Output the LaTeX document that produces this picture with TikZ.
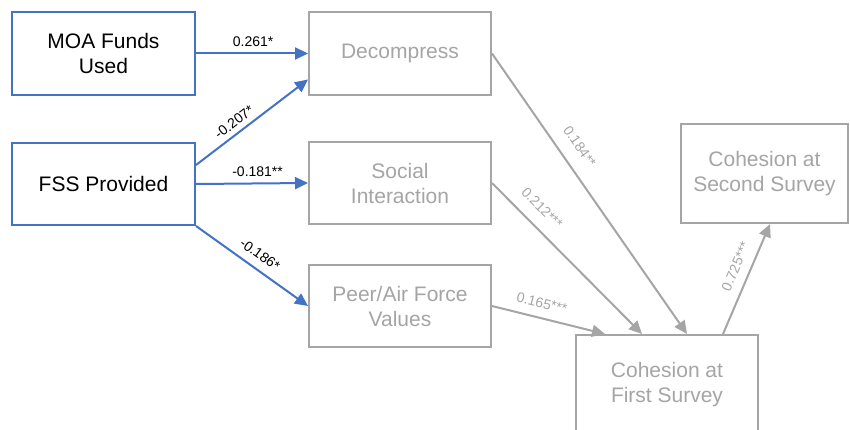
\documentclass[tikz,border=0pt]{standalone}
\usepackage{fontspec}
\setmainfont{Liberation Sans}
\usetikzlibrary{arrows.meta}
\definecolor{bl}{HTML}{4472C4}
\definecolor{gr}{HTML}{A5A5A5}
\begin{document}
\begin{tikzpicture}[x=1pt,y=-1pt,
  inbox/.style={draw=bl,line width=2pt,fill=white,align=center,font=\fontsize{21}{25}\selectfont,text=black,inner sep=0pt},
  outbox/.style={draw=gr,line width=2pt,fill=white,align=center,font=\fontsize{21}{25}\selectfont,text=gr,inner sep=0pt},
  barrow/.style={draw=bl,line width=2pt,-{Triangle[length=13pt,width=12pt]}},
  garrow/.style={draw=gr,line width=2pt,-{Triangle[length=13pt,width=12pt]}},
  blab/.style={font=\fontsize{14}{16}\selectfont,text=black,inner sep=1pt},
  glab/.style={font=\fontsize{14}{16}\selectfont,text=gr,inner sep=1pt}]
\useasboundingbox (0,0) rectangle (850,430);
\begin{scope}
\clip (0,0) rectangle (850,430);
\node[inbox,minimum width=183pt,minimum height=83pt] (moa) at (103.5,53.5) {MOA Funds\\Used};
\node[inbox,minimum width=183pt,minimum height=82pt] (fss) at (103.5,184) {FSS Provided};
\node[outbox,minimum width=182pt,minimum height=83pt] (dec) at (400,53.5) {Decompress};
\node[outbox,minimum width=182pt,minimum height=82pt] (soc) at (400,183) {Social\\Interaction};
\node[outbox,minimum width=182pt,minimum height=82pt] (peer) at (400,306) {Peer/Air Force\\Values};
\node[outbox,minimum width=182pt,minimum height=100pt] (c1) at (667,385) {Cohesion at\\First Survey};
\node[outbox,minimum width=167pt,minimum height=99pt] (c2) at (764.5,173.5) {Cohesion at\\Second Survey};

\draw[barrow] (moa.east) -- node[blab,pos=0.51,above=5pt] {0.261*} (dec.west);
\draw[barrow] ([yshift=19pt]fss.east) -- node[blab,sloped,pos=0.4,above=4pt] {-0.207*} ([yshift=-26pt]dec.west);
\draw[barrow] (fss.east) -- node[blab,pos=0.55,above=5pt] {-0.181**} (soc.west);
\draw[barrow] (fss.south east) -- node[blab,sloped,pos=0.5,above=7pt] {-0.186*} (peer.west);

\draw[garrow] (dec.east) -- node[glab,sloped,pos=0.37,above=12pt] {0.184**} ([xshift=20pt]c1.north);
\draw[garrow] (soc.east) -- node[glab,sloped,pos=0.25,above=11pt] {0.212***} ([xshift=-25pt]c1.north);
\draw[garrow] (peer.east) -- node[glab,sloped,pos=0.41,above=8pt] {0.165***} ([xshift=-62pt]c1.north);
\draw[garrow] ([xshift=56pt]c1.north) -- node[glab,sloped,pos=0.56,above=8pt] {0.725***} ([xshift=5.5pt]c2.south);
\end{scope}
\end{tikzpicture}
\end{document}
